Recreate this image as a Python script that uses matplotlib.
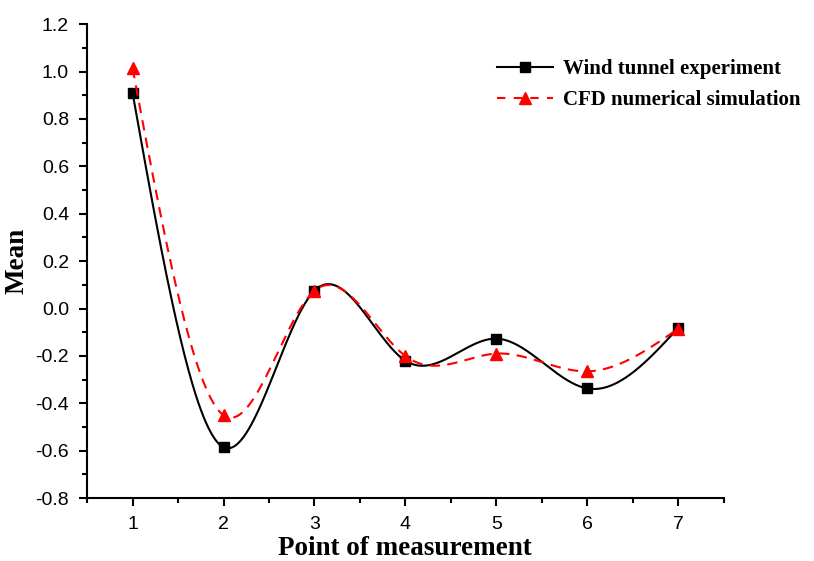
import numpy as np
import matplotlib
matplotlib.use("Agg")
import matplotlib.pyplot as plt
from matplotlib.ticker import MultipleLocator
from matplotlib.lines import Line2D

points = [1, 2, 3, 4, 5, 6, 7]
wind_tunnel = [0.91, -0.585, 0.075, -0.22, -0.127, -0.337, -0.082]
cfd = [1.015, -0.45, 0.075, -0.2, -0.19, -0.265, -0.085]


def natural_spline(x, y, n=400):
    # natural cubic spline, drawn like Origin's spline connection
    x = np.asarray(x, float)
    y = np.asarray(y, float)
    k = len(x)
    h = np.diff(x)
    A = np.zeros((k, k))
    b = np.zeros(k)
    A[0, 0] = A[-1, -1] = 1
    for i in range(1, k - 1):
        A[i, i - 1] = h[i - 1]
        A[i, i] = 2 * (h[i - 1] + h[i])
        A[i, i + 1] = h[i]
        b[i] = 6 * ((y[i + 1] - y[i]) / h[i] - (y[i] - y[i - 1]) / h[i - 1])
    M = np.linalg.solve(A, b)
    xs = np.linspace(x[0], x[-1], n)
    idx = np.clip(np.searchsorted(x, xs) - 1, 0, k - 2)
    x0, x1 = x[idx], x[idx + 1]
    hh = x1 - x0
    ys = (M[idx] * (x1 - xs) ** 3 / (6 * hh) + M[idx + 1] * (xs - x0) ** 3 / (6 * hh)
          + (y[idx] / hh - M[idx] * hh / 6) * (x1 - xs)
          + (y[idx + 1] / hh - M[idx + 1] * hh / 6) * (xs - x0))
    return xs, ys


fig = plt.figure(figsize=(8.14, 5.61), dpi=100)
ax = fig.add_axes([0.107, 0.112, 0.782, 0.845])

xs, ys = natural_spline(points, wind_tunnel)
ax.plot(xs, ys, color='black', lw=1.5)
ax.plot(points, wind_tunnel, 's', color='black', ms=7)

xs, ys = natural_spline(points, cfd)
ax.plot(xs, ys, color='red', lw=1.5, ls=(0, (5, 3.5)))
ax.plot(points, cfd, '^', color='red', ms=9)

ax.set_xlim(0.5, 7.5)
ax.set_ylim(-0.8, 1.2)
ax.xaxis.set_major_locator(MultipleLocator(1))
ax.xaxis.set_minor_locator(MultipleLocator(0.5))
ax.yaxis.set_major_locator(MultipleLocator(0.2))
ax.yaxis.set_minor_locator(MultipleLocator(0.1))
ax.yaxis.set_major_formatter(plt.FuncFormatter(lambda v, p: f"{v:.1f}"))

for s in ['top', 'right']:
    ax.spines[s].set_visible(False)
for s in ['left', 'bottom']:
    ax.spines[s].set_linewidth(1.5)

ax.tick_params(which='major', direction='out', length=6, width=1.5,
               labelsize=14, pad=7)
ax.tick_params(which='minor', direction='out', length=3.5, width=1.5)
for lab in ax.get_xticklabels() + ax.get_yticklabels():
    lab.set_family('Liberation Sans')

ax.set_xlabel('Point of measurement', family='Liberation Serif',
              fontweight='bold', fontsize=19.5, labelpad=2)
ax.set_ylabel('Mean', family='Liberation Serif', fontweight='bold',
              fontsize=19.5, labelpad=4)

handles = [
    Line2D([], [], color='black', lw=1.5, marker='s', ms=7),
    Line2D([], [], color='red', lw=1.5, ls=(0, (4, 4)), marker='^', ms=9),
]
ax.legend(handles, ['Wind tunnel experiment', 'CFD numerical simulation'],
          loc='upper left', bbox_to_anchor=(497 / 814, 1 - 59 / 561),
          bbox_transform=fig.transFigure, borderaxespad=0, borderpad=0,
          frameon=False,
          prop={'family': 'Liberation Serif', 'weight': 'bold', 'size': 15},
          handlelength=2.7, handletextpad=0.45, labelspacing=0.55)

fig.savefig('out.png', dpi=100)
